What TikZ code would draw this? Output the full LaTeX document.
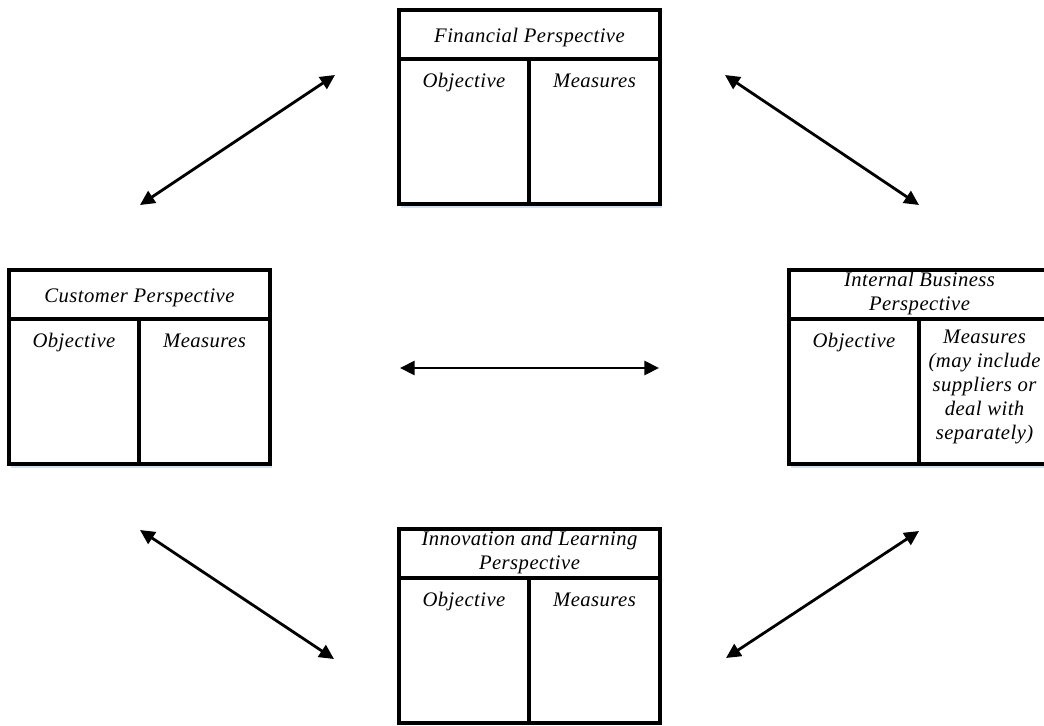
\documentclass[tikz,border=0pt]{standalone}
\usepackage{fontspec}
\setmainfont{Liberation Serif}[LetterSpace=2.2]
\usetikzlibrary{arrows.meta}
\begin{document}
\begin{tikzpicture}[x=0.75pt,y=-0.75pt,
  frame/.style={draw=black, line width=2.3pt, minimum width=195.75pt, minimum height=145.5pt, anchor=north west, inner sep=0pt, outer sep=0pt},
  divider/.style={line width=2.3pt},
  shade/.style={draw={rgb,255:red,210;green,224;blue,240}, line width=1.6pt},
  txt/.style={font=\fontsize{15.5}{18}\selectfont\itshape, align=center, anchor=north, inner sep=0pt, execute at begin node=\strut},
  link/.style={line width=2.1pt, {Triangle[length=11pt,width=10.5pt]}-{Triangle[length=11pt,width=10.5pt]}}
]
\useasboundingbox (0,0) rectangle (1044,725);

% shadows under boxes
\draw[shade] (401,206.5) -- (662,206.5);
\draw[shade] (11,466.5) -- (272,466.5);
\draw[shade] (791,466.5) -- (1052,466.5);

% boxes
\node[frame] (fin) at (399,10) {};
\node[frame] (cus) at (9,270) {};
\node[frame] (int) at (789,270) {};
\node[frame] (inn) at (399,529) {};

\foreach \b in {fin,cus,int,inn}{
  \draw[divider] ([yshift=-36.75pt]\b.north west) -- ([yshift=-36.75pt]\b.north east);
  \draw[divider] ([xshift=97.5pt,yshift=-36.75pt]\b.north west) -- ([xshift=97.5pt]\b.south west);
}

% texts (north = baseline - 16.8)
\node[txt] (finT) at (529.5,25.5) {Financial Perspective};
\node[txt] (finO) at (464,70) {Objective};
\node[txt] (finM) at (594.5,70) {Measures};

\node[txt] (cusT) at (139.5,285.5) {Customer Perspective};
\node[txt] (cusO) at (74,330) {Objective};
\node[txt] (cusM) at (204.5,330) {Measures};

\node[txt] (intT) at (919.5,272.2) {Internal Business\\Perspective};
\node[txt] (intO) at (854,330) {Objective};
\node[txt] (intM) at (984.5,330) {Measures\\(may include\\suppliers or\\deal with\\separately)};

\node[txt] (innT) at (529.5,531.2) {Innovation and Learning\\Perspective};
\node[txt] (innO) at (464,589) {Objective};
\node[txt] (innM) at (594.5,589) {Measures};

% arrow end points
\coordinate (a1s) at (140,205);
\coordinate (a1e) at (335,75);
\coordinate (a2s) at (725,75);
\coordinate (a2e) at (919,205);
\coordinate (a3s) at (400,368);
\coordinate (a3e) at (659,368);
\coordinate (a4s) at (140,530);
\coordinate (a4e) at (334,659);
\coordinate (a5s) at (726,658);
\coordinate (a5e) at (919,531);

\draw[link] (a1s) -- (a1e);
\draw[link] (a2s) -- (a2e);
\draw[link] (a3s) -- (a3e);
\draw[link] (a4s) -- (a4e);
\draw[link] (a5s) -- (a5e);
\end{tikzpicture}
\end{document}
